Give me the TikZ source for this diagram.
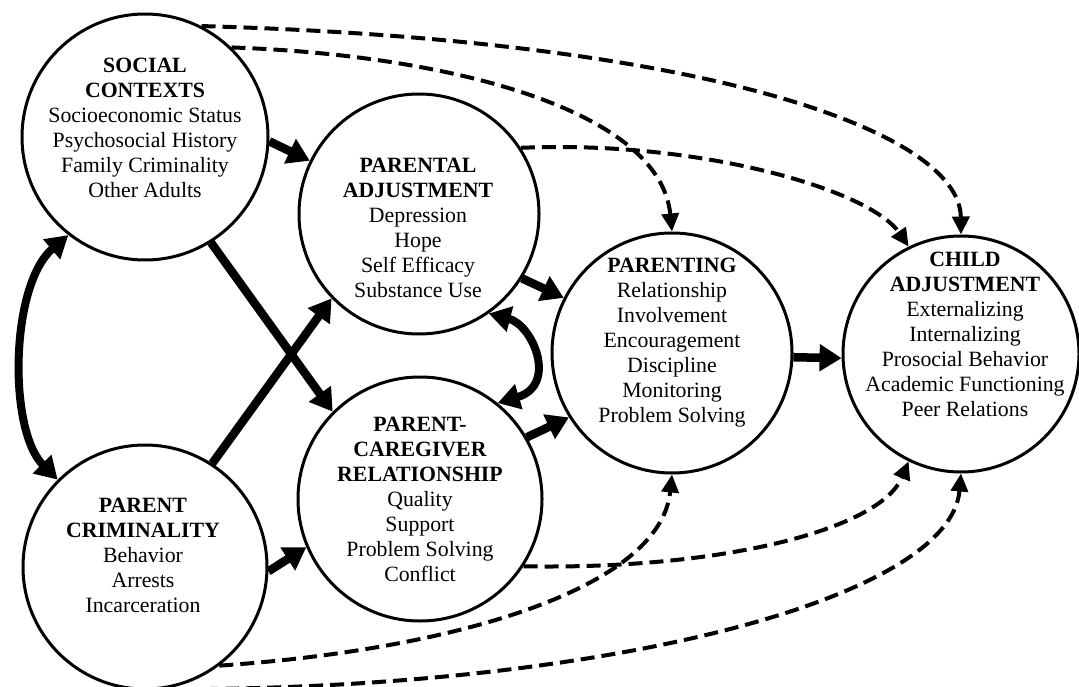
\documentclass[tikz,border=0pt]{standalone}
\usepackage{fontspec}
\setmainfont{Liberation Serif}
\usetikzlibrary{arrows.meta}
\begin{document}
\begin{tikzpicture}[x=1pt,y=-1pt,
  circ/.style={draw, circle, line width=3pt, inner sep=0pt},
  lbl/.style={anchor=north, align=center, inner sep=0pt, font=\fontsize{21.8}{25}\selectfont},
  solidarrow/.style={line width=8.5pt, -{Triangle[length=22pt,width=26pt]}},
  dblarrow/.style={line width=8pt, {Triangle[length=22pt,width=25pt]}-{Triangle[length=22pt,width=25pt]}},
  dasharrow/.style={line width=4pt, dash pattern=on 14pt off 7pt, -{Triangle[length=18pt,width=17pt]}}]
\useasboundingbox (0,0) rectangle (1079,687);
\fill[white] (0,0) rectangle (1079,687);

% circles
\node[circ, minimum size=246pt] (social) at (145,137) {};
\node[circ, minimum size=244pt] (crim) at (145,567) {};
\node[circ, minimum size=240pt] (pa) at (419,214) {};
\node[circ, minimum size=244pt] (pc) at (420,499) {};
\node[circ, minimum size=240pt] (parenting) at (672,353) {};
\node[circ, minimum size=236pt] (child) at (961,354) {};

% texts
\node[lbl] (socialtext) at (145,58) {\textbf{SOCIAL}\\\textbf{CONTEXTS}\\Socioeconomic Status\\Psychosocial History\\Family Criminality\\Other Adults};
\node[lbl] (crimtext) at (143,498) {\textbf{PARENT}\\\textbf{CRIMINALITY}\\Behavior\\Arrests\\Incarceration};
\node[lbl] (patext) at (418,158) {\textbf{PARENTAL}\\\textbf{ADJUSTMENT}\\Depression\\Hope\\Self Efficacy\\Substance Use};
\node[lbl] (pctext) at (420,417) {\textbf{PARENT-}\\\textbf{CAREGIVER}\\\textbf{RELATIONSHIP}\\Quality\\Support\\Problem Solving\\Conflict};
\node[lbl] (parentingtext) at (672,258) {\textbf{PARENTING}\\Relationship\\Involvement\\Encouragement\\Discipline\\Monitoring\\Problem Solving};
\node[lbl] (childtext) at (965,252) {\textbf{CHILD}\\\textbf{ADJUSTMENT}\\Externalizing\\Internalizing\\Prosocial Behavior\\Academic Functioning\\Peer Relations};

% solid arrows
\draw[dblarrow] (social.232) .. controls (10,285) and (8,430) .. (crim.135);
\draw[dblarrow] (pa.-55) .. controls (533,325) and (558,385) .. (pc.51);
\draw[solidarrow] (social.-2) -- (pa.154);
\draw[solidarrow] (social.-58) -- (pc.135);
\draw[solidarrow] (crim.57) -- (pa.224);
\draw[solidarrow] (crim.-2) -- (pc.203);
\draw[solidarrow] (pa.-32) -- (parenting.153);
\draw[solidarrow] (pc.30) -- (parenting.212);
\draw[solidarrow] (parenting.-2) -- (child.182);

% dashed arrows
\draw[dasharrow] (social.63) .. controls (700,40) and (960,130) .. (child.90);
\draw[dasharrow] (social.46) .. controls (450,55) and (660,110) .. (parenting.90);
\draw[dasharrow] (pa.33) .. controls (700,140) and (870,190) .. (child.116);
\draw[dasharrow] (pc.-33) .. controls (720,570) and (880,530) .. (child.244);
\draw[dasharrow] (crim.-53) .. controls (450,650) and (660,590) .. (parenting.270);
\draw[dasharrow] (crim.-82) .. controls (600,690) and (950,600) .. (child.270);
\end{tikzpicture}
\end{document}
